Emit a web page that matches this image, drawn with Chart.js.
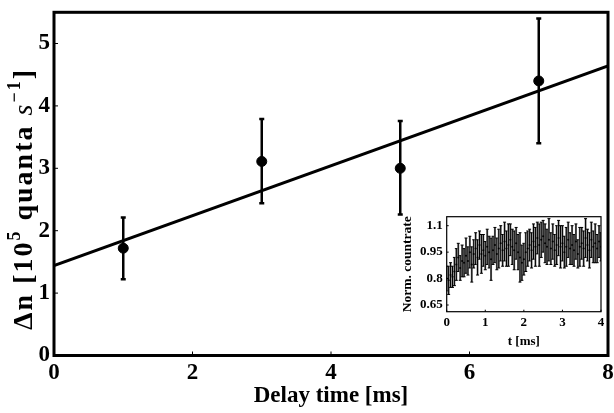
<!DOCTYPE html>
<html>
<head>
<meta charset="utf-8">
<script src="https://cdn.jsdelivr.net/npm/chart.js@4.4.1/dist/chart.umd.min.js"></script>
<style>
  body { margin: 0; background: #fff; }
  #wrap { position: relative; width: 614px; height: 413px; }
  #mainChart { position: absolute; left: 0; top: 0; }
  #insetChart { position: absolute; left: 398px; top: 206px; }
</style>
</head>
<body>
<div id="wrap">
  <canvas id="mainChart" width="614" height="413"></canvas>
  <canvas id="insetChart" width="210" height="146"></canvas>
</div>
<script>
// main plot: delay time vs delta n
const delayTimes = [1, 3, 5, 7];
const deltaN = [1.72, 3.11, 3.00, 4.40];
const errLow = [1.22, 2.44, 2.26, 3.40];
const errHigh = [2.21, 3.79, 3.76, 5.40];
const fitX = [0, 8];
const fitY = [1.44, 4.64];
const xTicks = [0, 2, 4, 6, 8];
const yTicks = [0, 1, 2, 3, 4, 5];

// inset: normalised count rate
const insetT = [
  0.00, 0.05, 0.10, 0.15, 0.20, 0.25, 0.30, 0.35, 0.40, 0.45,
  0.50, 0.55, 0.60, 0.65, 0.70, 0.75, 0.80, 0.85, 0.90, 0.95,
  1.00, 1.05, 1.10, 1.15, 1.20, 1.25, 1.30, 1.35, 1.40, 1.45,
  1.50, 1.55, 1.60, 1.65, 1.70, 1.75, 1.80, 1.85, 1.90, 1.95,
  2.00, 2.05, 2.10, 2.15, 2.20, 2.25, 2.30, 2.35, 2.40, 2.45,
  2.50, 2.55, 2.60, 2.65, 2.70, 2.75, 2.80, 2.85, 2.90, 2.95,
  3.00, 3.05, 3.10, 3.15, 3.20, 3.25, 3.30, 3.35, 3.40, 3.45,
  3.50, 3.55, 3.60, 3.65, 3.70, 3.75, 3.80, 3.85, 3.90, 3.95,
  4.00
];
const insetRate = [
  0.80, 0.79, 0.82, 0.81, 0.84, 0.88, 0.92, 0.86, 0.90, 0.89,
  0.93, 0.90, 0.95, 0.88, 0.94, 0.97, 0.92, 0.99, 0.94, 0.96,
  0.93, 0.98, 0.95, 0.91, 0.96, 0.99, 0.94, 0.97, 1.00, 0.96,
  1.01, 0.97, 0.99, 1.02, 0.98, 0.96, 1.00, 0.95, 0.92, 0.89,
  0.91, 0.95, 0.97, 0.99, 0.96, 1.01, 0.98, 1.03, 0.99, 1.02,
  1.04, 1.00, 0.98, 1.02, 0.97, 1.01, 0.96, 0.99, 1.03, 0.98,
  1.00, 0.95, 0.98, 1.02, 0.97, 0.99, 0.96, 1.01, 0.94, 0.98,
  1.00, 0.97, 1.03, 0.99, 0.96, 1.02, 0.98, 1.00, 0.97, 1.01,
  0.98
];
const insetErr = [
  0.07, 0.08, 0.07, 0.06, 0.08, 0.09, 0.08, 0.07, 0.09, 0.08,
  0.10, 0.08, 0.09, 0.10, 0.08, 0.09, 0.10, 0.08, 0.11, 0.09,
  0.08, 0.10, 0.09, 0.12, 0.08, 0.10, 0.09, 0.11, 0.10, 0.09,
  0.11, 0.10, 0.12, 0.09, 0.10, 0.11, 0.09, 0.10, 0.14, 0.10,
  0.09, 0.11, 0.10, 0.09, 0.10, 0.10, 0.11, 0.09, 0.12, 0.10,
  0.09, 0.11, 0.10, 0.12, 0.09, 0.10, 0.09, 0.11, 0.10, 0.12,
  0.10, 0.09, 0.11, 0.10, 0.09, 0.11, 0.09, 0.10, 0.08, 0.11,
  0.09, 0.10, 0.11, 0.09, 0.10, 0.10, 0.09, 0.11, 0.08, 0.09,
  0.08
];
const insetXTicks = [0, 1, 2, 3, 4];
const insetYTicks = [0.65, 0.8, 0.95, 1.1];

const serif = "'Liberation Serif', 'DejaVu Serif', serif";

// box + inward tick marks
function frame(lw, tickLen) {
  return {
    id: 'frame',
    afterDraw(chart) {
      const ctx = chart.ctx;
      const a = chart.chartArea;
      ctx.save();
      ctx.strokeStyle = '#000';
      ctx.lineWidth = 1;
      chart.scales.x.ticks.forEach(t => {
        const px = chart.scales.x.getPixelForValue(t.value);
        ctx.beginPath();
        ctx.moveTo(px, a.bottom);
        ctx.lineTo(px, a.bottom - tickLen);
        ctx.stroke();
      });
      chart.scales.y.ticks.forEach(t => {
        const py = chart.scales.y.getPixelForValue(t.value);
        ctx.beginPath();
        ctx.moveTo(a.left, py);
        ctx.lineTo(a.left + tickLen, py);
        ctx.stroke();
      });
      ctx.lineWidth = lw;
      ctx.strokeRect(a.left, a.top, a.right - a.left, a.bottom - a.top);
      ctx.restore();
    }
  };
}

// no extra label padding, so the plot box lands where it should
function fixX(h) {
  return s => { s.height = h; s.paddingLeft = 0; s.paddingRight = 0; };
}
function fixY(w) {
  return s => { s.width = w; s.paddingTop = 0; s.paddingBottom = 0; };
}

const mainErrors = {
  id: 'mainErrors',
  afterDatasetsDraw(chart) {
    const ctx = chart.ctx;
    const xs = chart.scales.x, ys = chart.scales.y;
    ctx.save();
    ctx.strokeStyle = '#000';
    ctx.lineWidth = 2.5;
    delayTimes.forEach((t, i) => {
      const px = xs.getPixelForValue(t);
      const lo = ys.getPixelForValue(errLow[i]);
      const hi = ys.getPixelForValue(errHigh[i]);
      ctx.beginPath();
      ctx.moveTo(px, lo);
      ctx.lineTo(px, hi);
      ctx.moveTo(px - 2.5, lo);
      ctx.lineTo(px + 2.5, lo);
      ctx.moveTo(px - 2.5, hi);
      ctx.lineTo(px + 2.5, hi);
      ctx.stroke();
    });
    ctx.restore();
  }
};

// y title with superscripts, drawn char by char with a little tracking
const mainYTitle = {
  id: 'mainYTitle',
  afterDraw(chart) {
    const ctx = chart.ctx;
    const big = 'bold 28px ' + serif;
    const small = 'bold 18px ' + serif;
    const track = 2;
    const parts = [
      { s: '\u0394n [10', f: big, dy: 0 },
      { s: '5', f: small, dy: -12 },
      { s: ' quanta ', f: big, dy: 0 },
      { s: 's', f: 'italic 28px ' + serif, dy: 0 },
      { s: '\u22121', f: small, dy: -12 },
      { s: ']', f: big, dy: 0 }
    ];
    ctx.save();
    let total = 0;
    parts.forEach(p => {
      ctx.font = p.f;
      for (const ch of p.s) total += ctx.measureText(ch).width + track;
    });
    ctx.translate(32, 199);
    ctx.rotate(-Math.PI / 2);
    ctx.fillStyle = '#000';
    ctx.textBaseline = 'alphabetic';
    let x = -total / 2;
    parts.forEach(p => {
      ctx.font = p.f;
      for (const ch of p.s) {
        ctx.fillText(ch, x, p.dy);
        x += ctx.measureText(ch).width + track;
      }
    });
    ctx.restore();
  }
};

new Chart(document.getElementById('mainChart'), {
  type: 'scatter',
  data: {
    datasets: [
      {
        data: fitX.map((x, i) => ({ x: x, y: fitY[i] })),
        showLine: true,
        borderColor: '#000',
        borderWidth: 3,
        pointRadius: 0
      },
      {
        data: delayTimes.map((x, i) => ({ x: x, y: deltaN[i] })),
        pointRadius: 5,
        backgroundColor: '#000',
        borderColor: '#000'
      }
    ]
  },
  options: {
    responsive: false,
    animation: false,
    layout: { padding: { top: 12.3, right: 5.5, left: 0, bottom: 0 } },
    plugins: { legend: { display: false }, tooltip: { enabled: false } },
    scales: {
      x: {
        type: 'linear', min: 0, max: 8,
        afterBuildTicks: s => { s.ticks = xTicks.map(v => ({ value: v })); },
        afterFit: fixX(57.5),
        grid: { display: false, drawTicks: false },
        border: { display: false },
        ticks: { color: '#000', padding: 4, callback: v => String(v),
                 font: { family: serif, size: 23, weight: 'bold' } },
        title: { display: true, text: 'Delay time [ms]', color: '#000', padding: { top: 0, bottom: 3 },
                 font: { family: serif, size: 23, weight: 'bold' } }
      },
      y: {
        type: 'linear', min: 0, max: 5.5,
        afterBuildTicks: s => { s.ticks = yTicks.map(v => ({ value: v })); },
        afterFit: fixY(54),
        grid: { display: false, drawTicks: false },
        border: { display: false },
        ticks: { color: '#000', padding: 4, callback: v => String(v),
                 font: { family: serif, size: 23, weight: 'bold', lineHeight: 1 } }
      }
    }
  },
  plugins: [frame(3, 4), mainErrors, mainYTitle]
});

const insetErrors = {
  id: 'insetErrors',
  beforeDatasetsDraw(chart) {
    const ctx = chart.ctx;
    const xs = chart.scales.x, ys = chart.scales.y;
    const a = chart.chartArea;
    ctx.save();
    ctx.beginPath();
    ctx.rect(a.left, a.top, a.right - a.left, a.bottom - a.top);
    ctx.clip();
    insetT.forEach((t, i) => {
      const px = xs.getPixelForValue(t);
      const lo = ys.getPixelForValue(insetRate[i] - insetErr[i]);
      const hi = ys.getPixelForValue(insetRate[i] + insetErr[i]);
      ctx.fillStyle = '#7d7d7d';
      ctx.fillRect(px - 1, hi, 2, lo - hi);
      ctx.strokeStyle = '#000';
      ctx.lineWidth = 1;
      ctx.beginPath();
      ctx.moveTo(px, lo);
      ctx.lineTo(px, hi);
      ctx.moveTo(px - 1.5, lo);
      ctx.lineTo(px + 1.5, lo);
      ctx.moveTo(px - 1.5, hi);
      ctx.lineTo(px + 1.5, hi);
      ctx.stroke();
    });
    ctx.restore();
  }
};

new Chart(document.getElementById('insetChart'), {
  type: 'scatter',
  data: {
    datasets: [{
      data: insetT.map((t, i) => ({ x: t, y: insetRate[i] })),
      pointRadius: 1,
      backgroundColor: '#000',
      borderColor: '#000',
      borderWidth: 0
    }]
  },
  options: {
    responsive: false,
    animation: false,
    layout: { padding: { top: 10.7, right: 7, left: 0, bottom: 0 } },
    plugins: { legend: { display: false }, tooltip: { enabled: false } },
    scales: {
      x: {
        type: 'linear', min: 0, max: 4,
        afterBuildTicks: s => { s.ticks = insetXTicks.map(v => ({ value: v })); },
        afterFit: fixX(40.3),
        grid: { display: false, drawTicks: false },
        border: { display: false },
        ticks: { color: '#000', padding: 3, callback: v => String(v),
                 font: { family: serif, size: 13, weight: 'bold' } },
        title: { display: true, text: 't [ms]', color: '#000', padding: { top: 0, bottom: 2.5 },
                 font: { family: serif, size: 13, weight: 'bold' } }
      },
      y: {
        type: 'linear', min: 0.612, max: 1.151,
        afterBuildTicks: s => { s.ticks = insetYTicks.map(v => ({ value: v })); },
        afterFit: fixY(48.7),
        grid: { display: false, drawTicks: false },
        border: { display: false },
        ticks: { color: '#000', padding: 4, callback: v => String(v),
                 font: { family: serif, size: 13, weight: 'bold', lineHeight: 1 } },
        title: { display: true, text: 'Norm. countrate', color: '#000', padding: { top: 1, bottom: 0 },
                 font: { family: serif, size: 13.5, weight: 'bold' } }
      }
    }
  },
  plugins: [frame(1.2, 2), insetErrors]
});
</script>
</body>
</html>
